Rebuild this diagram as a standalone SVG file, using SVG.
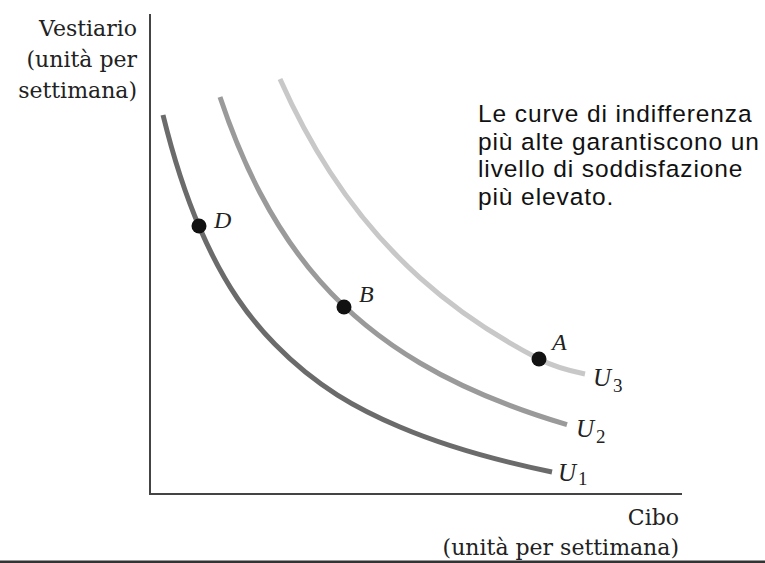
<svg xmlns="http://www.w3.org/2000/svg" width="765" height="563" viewBox="0 0 765 563">
<style>
.ax{stroke:#444;stroke-width:2;fill:none}
.crv{fill:none;stroke-width:5;stroke-linecap:butt;stroke-linejoin:round}
.axl{font-family:"DejaVu Serif","Liberation Serif",serif;font-size:22px;fill:#222}
.pt{font-family:"Liberation Serif",serif;font-style:italic;font-size:24px;fill:#222}
.ul{font-family:"Liberation Serif",serif;font-style:italic;font-size:25px;fill:#222}
.sub{font-family:"Liberation Serif",serif;font-size:19px;fill:#222}
.note{font-family:"Liberation Sans",Arial,sans-serif;font-size:24.5px;letter-spacing:0.9px;fill:#111}
.dot{fill:#111}
</style>
<rect width="765" height="563" fill="#fff"/>
<g id="axes">
<path class="ax" d="M150,14 V494 H682"/>
<rect x="0" y="560.5" width="765" height="2.5" fill="#333"/>
</g>
<g id="y-label">
<text class="axl" text-anchor="end" x="137" y="36">Vestiario</text>
<text class="axl" text-anchor="end" x="137" y="67">(unità per</text>
<text class="axl" text-anchor="end" x="137" y="98">settimana)</text>
</g>
<g id="x-label">
<text class="axl" text-anchor="end" x="679" y="525">Cibo</text>
<text class="axl" text-anchor="end" x="679" y="555">(unità per settimana)</text>
</g>
<g id="connectors">
<path id="U1-curve" class="crv" stroke="#6b6b6b" d="M163,115 C175.33,165.3 187.67,200.1 200,228.6 C225,286.45 250,318.6 275,344.3 C316.67,387.1 358.33,409.3 400,427 C450.67,448.5 501.33,461.5 552,472"/>
<path id="U2-curve" class="crv" stroke="#9a9a9a" d="M220,97 C233.33,136.9 246.67,167.2 260,192.76 C280,231.06 300,258.5 320,281.15 C353.33,318.9 386.67,343.3 420,363 C469,392 518,410.1 567,424.7"/>
<path id="U3-curve" class="crv" stroke="#c8c8c8" d="M280,79 C296.67,116.5 313.33,146.3 330,172 C360,218.2 390,250.9 420,277.8 C459.67,313.4 499.33,338.4 539,359 C554.33,367 569.67,370.9 585,374"/>
</g>
<g id="U1">
<text class="ul" x="558" y="481">U</text><text class="sub" x="578" y="485">1</text>
</g>
<g id="U2">
<text class="ul" x="576" y="437">U</text><text class="sub" x="596" y="443">2</text>
</g>
<g id="U3">
<text class="ul" x="593" y="386">U</text><text class="sub" x="613" y="392">3</text>
</g>
<g id="D">
<circle class="dot" cx="199" cy="226" r="7.5"/>
<text class="pt" x="214" y="228">D</text>
</g>
<g id="B">
<circle class="dot" cx="344" cy="307" r="7.5"/>
<text class="pt" x="359" y="302">B</text>
</g>
<g id="A">
<circle class="dot" cx="539" cy="359" r="7.5"/>
<text class="pt" x="552" y="350">A</text>
</g>
<g id="note">
<text class="note" x="478" y="122">Le curve di indifferenza</text>
<text class="note" x="478" y="150">più alte garantiscono un</text>
<text class="note" x="478" y="177">livello di soddisfazione</text>
<text class="note" x="478" y="205">più elevato.</text>
</g>
</svg>
